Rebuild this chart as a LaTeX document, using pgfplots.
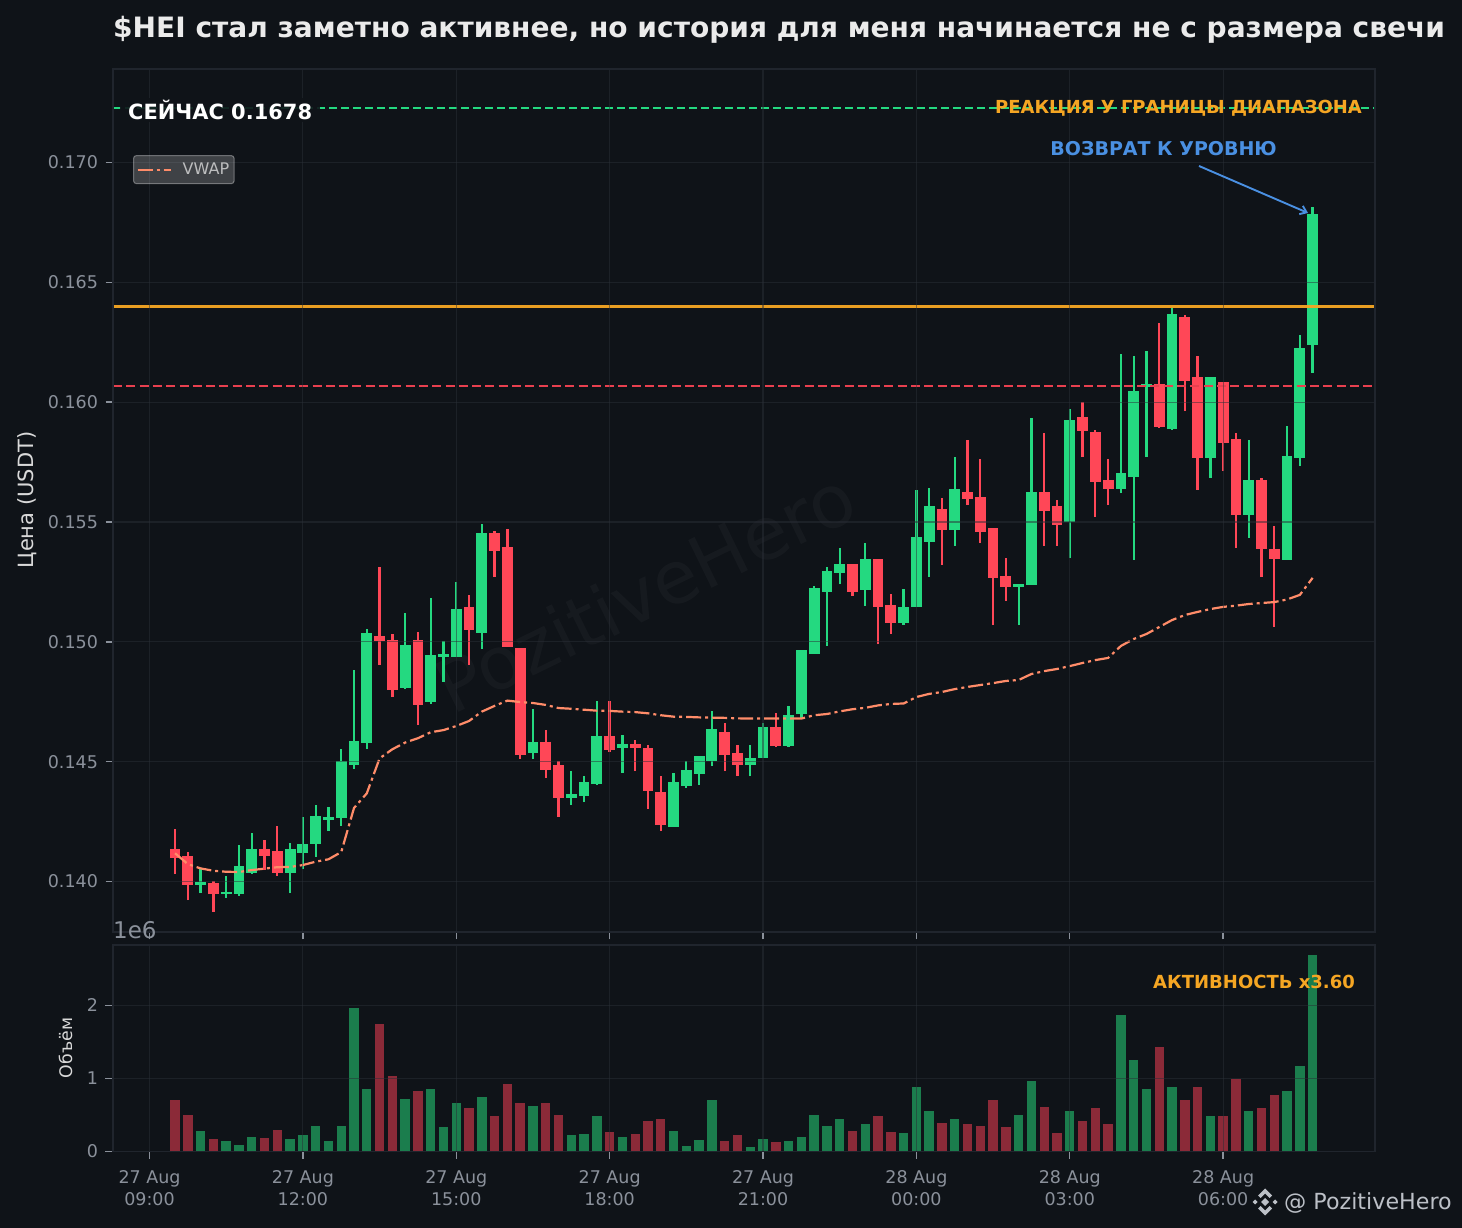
\documentclass[border=0pt]{standalone}
\usepackage{pgfplots}
\usepackage{pgfplotstable}
\usepackage{fontspec}
\usetikzlibrary{arrows.meta}
\setmainfont{DejaVu Sans}
\pgfplotsset{compat=1.18}
\definecolor{bg}{HTML}{0F1318}
\definecolor{gridc}{HTML}{2A2F37}
\definecolor{spine}{HTML}{20252D}
\definecolor{tickc}{HTML}{8B919B}
\definecolor{footc}{HTML}{BCC0C7}
\definecolor{upc}{HTML}{24D980}
\definecolor{dnc}{HTML}{FF4757}
\definecolor{upv}{HTML}{1B7D4D}
\definecolor{dnv}{HTML}{8B2A38}
\definecolor{vwapc}{HTML}{FF8C69}
\definecolor{orangec}{HTML}{F5A623}
\definecolor{bluec}{HTML}{4A90E2}
\definecolor{redl}{HTML}{E8404F}
\pgfplotstableread{
t o h l c
1.00 .13986 .14055 .13952 .13997
1.50 .13949 .14023 .13932 .13957
1.75 .13949 .14153 .13940 .14064
2.00 .14037 .14201 .14032 .14136
2.75 .14037 .14160 .13952 .14136
3.00 .14121 .14271 .14052 .14157
3.25 .14158 .14320 .14103 .14274
3.50 .14258 .14311 .14211 .14270
3.75 .14267 .14553 .14232 .14504
4.00 .14488 .14883 .14470 .14586
4.25 .14580 .15054 .14553 .15037
5.00 .14808 .15121 .14803 .14987
5.50 .14751 .15183 .14741 .14945
5.75 .14938 .15004 .14833 .14949
6.00 .14938 .15250 .14938 .15137
6.50 .15038 .15492 .14970 .15453
7.50 .14537 .14720 .14511 .14584
8.25 .14350 .14461 .14320 .14365
8.50 .14358 .14440 .14332 .14415
8.75 .14407 .14753 .14403 .14606
9.25 .14559 .14612 .14453 .14574
10.25 .14229 .14453 .14229 .14415
10.50 .14399 .14503 .14390 .14465
10.75 .14449 .14524 .14403 .14523
11.00 .14503 .14712 .14482 .14636
11.75 .14486 .14570 .14440 .14515
12.00 .14517 .14662 .14517 .14645
12.50 .14566 .14733 .14562 .14695
12.75 .14700 .14966 .14682 .14966
13.00 .14951 .15233 .14951 .15225
13.25 .15209 .15312 .14983 .15296
13.50 .15289 .15392 .15242 .15325
14.00 .15218 .15413 .15150 .15345
14.75 .15080 .15221 .15070 .15146
15.00 .15147 .15634 .15147 .15438
15.25 .15418 .15642 .15271 .15567
15.75 .15468 .15771 .15400 .15638
17.00 .15230 .15242 .15070 .15242
17.25 .15239 .15934 .15239 .15625
18.00 .15500 .15972 .15350 .15926
19.00 .15639 .16201 .15621 .15705
19.25 .15689 .16193 .15342 .16047
19.50 .16065 .16214 .15771 .16076
20.00 .15889 .16394 .15884 .16367
20.75 .15768 .16105 .15684 .16105
21.50 .15531 .15842 .15434 .15675
22.25 .15342 .15901 .15342 .15776
22.50 .15768 .16280 .15734 .16226
22.75 .16240 .16814 .16122 .16785
}\upT
\pgfplotstableread{
t o h l c
0.50 .14136 .14219 .14032 .14100
0.75 .14105 .14122 .13923 .13986
1.25 .13993 .14002 .13873 .13949
2.25 .14136 .14173 .14048 .14107
2.50 .14128 .14231 .14023 .14037
4.50 .15025 .15312 .14904 .15003
4.75 .15007 .15033 .14770 .14801
5.25 .15008 .15041 .14653 .14738
6.25 .15146 .15196 .14904 .15051
6.75 .15453 .15463 .15271 .15381
7.00 .15395 .15471 .14980 .14980
7.25 .14973 .14973 .14511 .14529
7.75 .14584 .14632 .14433 .14467
8.00 .14485 .14503 .14271 .14350
9.00 .14607 .14753 .14540 .14550
9.50 .14574 .14591 .14461 .14559
9.75 .14557 .14570 .14303 .14379
10.00 .14372 .14440 .14211 .14237
11.25 .14624 .14662 .14461 .14529
11.50 .14536 .14570 .14440 .14486
12.25 .14645 .14703 .14562 .14566
13.75 .15325 .15325 .15192 .15209
14.25 .15345 .15345 .14991 .15147
14.50 .15154 .15200 .15033 .15080
15.50 .15554 .15600 .15321 .15468
16.00 .15625 .15842 .15571 .15596
16.25 .15604 .15763 .15413 .15460
16.50 .15474 .15474 .15070 .15268
16.75 .15275 .15350 .15171 .15230
17.50 .15625 .15871 .15400 .15547
17.75 .15567 .15592 .15400 .15489
18.25 .15938 .16001 .15771 .15881
18.50 .15875 .15884 .15521 .15667
18.75 .15675 .15763 .15571 .15639
19.75 .16076 .16330 .15893 .15898
20.25 .16355 .16363 .15963 .16089
20.50 .16105 .16193 .15634 .15768
21.00 .16084 .16084 .15713 .15831
21.25 .15846 .15871 .15392 .15531
21.75 .15675 .15684 .15271 .15389
22.00 .15388 .15484 .15062 .15347
}\dnT
\pgfplotstableread{
t v
0.50 .14118
0.75 .14073
1.00 .14055
1.25 .14045
1.50 .14041
1.75 .14040
2.00 .14048
2.25 .14054
2.50 .14060
2.75 .14061
3.00 .14069
3.25 .14083
3.50 .14093
3.75 .14123
4.00 .14307
4.25 .14368
4.50 .14514
4.75 .14552
5.00 .14580
5.25 .14598
5.50 .14623
5.75 .14632
6.00 .14649
6.25 .14670
6.50 .14709
6.75 .14733
7.00 .14755
7.25 .14749
7.50 .14745
7.75 .14737
8.00 .14724
8.25 .14721
8.50 .14717
8.75 .14713
9.00 .14712
9.25 .14709
9.50 .14707
9.75 .14702
10.00 .14694
10.25 .14688
10.50 .14687
10.75 .14685
11.00 .14684
11.25 .14683
11.50 .14681
11.75 .14680
12.00 .14680
12.25 .14680
12.50 .14680
12.75 .14680
13.00 .14694
13.25 .14699
13.50 .14710
13.75 .14719
14.00 .14725
14.25 .14735
14.50 .14741
14.75 .14743
15.00 .14770
15.25 .14783
15.50 .14791
15.75 .14803
16.00 .14812
16.25 .14820
16.50 .14828
16.75 .14837
17.00 .14841
17.25 .14866
17.50 .14878
17.75 .14887
18.00 .14899
18.25 .14912
18.50 .14924
18.75 .14933
19.00 .14983
19.25 .15012
19.50 .15033
19.75 .15062
20.00 .15091
20.25 .15112
20.50 .15125
20.75 .15137
21.00 .15146
21.25 .15151
21.50 .15158
21.75 .15162
22.00 .15166
22.25 .15177
22.50 .15196
22.75 .15267
}\vwapT
\pgfplotstableread{
t v
1.00 0.28
1.50 0.15
1.75 0.09
2.00 0.20
2.75 0.17
3.00 0.23
3.25 0.35
3.50 0.15
3.75 0.35
4.00 1.96
4.25 0.85
5.00 0.72
5.50 0.85
5.75 0.33
6.00 0.67
6.50 0.75
7.50 0.63
8.25 0.22
8.50 0.24
8.75 0.48
9.25 0.20
10.25 0.28
10.50 0.08
10.75 0.16
11.00 0.71
11.75 0.06
12.00 0.17
12.50 0.15
12.75 0.20
13.00 0.50
13.25 0.35
13.50 0.45
14.00 0.38
14.75 0.26
15.00 0.89
15.25 0.56
15.75 0.45
17.00 0.50
17.25 0.97
18.00 0.55
19.00 1.87
19.25 1.25
19.50 0.86
20.00 0.88
20.75 0.49
21.50 0.55
22.25 0.83
22.50 1.17
22.75 2.69
}\upV
\pgfplotstableread{
t v
0.50 0.71
0.75 0.50
1.25 0.17
2.25 0.19
2.50 0.30
4.50 1.74
4.75 1.04
5.25 0.83
6.25 0.59
6.75 0.49
7.00 0.92
7.25 0.66
7.75 0.67
8.00 0.50
9.00 0.27
9.50 0.24
9.75 0.42
10.00 0.44
11.25 0.15
11.50 0.23
12.25 0.13
13.75 0.28
14.25 0.48
14.50 0.27
15.50 0.39
16.00 0.37
16.25 0.35
16.50 0.71
16.75 0.34
17.50 0.61
17.75 0.26
18.25 0.42
18.50 0.59
18.75 0.38
19.75 1.43
20.25 0.71
20.50 0.88
21.00 0.49
21.25 0.99
21.75 0.59
22.00 0.77
}\dnV
\pgfplotsset{
  common/.style={
    scale only axis, width=1262pt, anchor=south west,
    xmin=-0.714, xmax=23.97,
    xtick={0,3,6,9,12,15,18,21},
    axis on top,
    grid=major,
    major grid style={color=gridc, line width=1.2pt, opacity=.5},
    axis line style={color=spine, line width=1.8pt},
    major tick length=7.5pt,
    tick align=outside,
    tick style={color=tickc, line width=1.4pt},
    xtick pos=bottom, ytick pos=left,
    yticklabel style={font=\fontsize{17.5}{20}\selectfont, color=tickc, xshift=-4pt},
    xticklabel style={font=\fontsize{17.5}{21.5}\selectfont, color=tickc, align=center, yshift=-8pt},
    clip=true,
  },
  wick/.style={quiver={u=0, v=\thisrow{h}-\thisrow{l}}, no markers, line width=2.3pt, forget plot},
  body/.style={quiver={u=0, v=\thisrow{c}-\thisrow{o}}, no markers, line width=10.8pt, forget plot},
}
\begin{document}
\begin{tikzpicture}[x=1pt,y=1pt]
\path[use as bounding box, fill=bg] (0,0) rectangle (1462,1228);
% watermark
\node[rotate=26, text=white, opacity=.03, font=\fontsize{73}{80}\selectfont] at (645,637) {PozitiveHero};
\begin{axis}[common, at={(113pt,296pt)}, height=863pt,
  ymin=0.137897, ymax=0.1739,
  ytick={0.14,0.145,0.15,0.155,0.16,0.165,0.17},
  yticklabels={0.140,0.145,0.150,0.155,0.160,0.165,0.170},
  scaled y ticks=false,
  xticklabels={},
  legend cell align=left,
  legend image code/.code={\draw[#1, draw opacity=1] (2pt,0pt) -- (35pt,0pt); \path (44pt,0pt);},
  legend style={at={(0.01585,0.9003)}, anchor=north west, fill=white, fill opacity=.2, draw opacity=.35, text opacity=1,
     draw=white, rounded corners=3pt, line width=1pt,
     font=\fontsize{16}{18}\selectfont, text=white!72!bg, inner xsep=3pt, inner ysep=5.5pt},
]
\addplot[wick, draw=upc] table[x=t,y=l] {\upT};
\addplot[wick, draw=dnc] table[x=t,y=l] {\dnT};
\addplot[body, draw=upc] table[x=t,y=o] {\upT};
\addplot[body, draw=dnc] table[x=t,y=o] {\dnT};
\addplot[forget plot, color=upc, line width=1.9pt, dash pattern=on 8pt off 4pt] coordinates {(-0.714,0.17227)(23.97,0.17227)};
\addplot[forget plot, color=redl, line width=2.2pt, dash pattern=on 9pt off 4.3pt] coordinates {(-0.714,0.16068)(23.97,0.16068)};
\addplot[forget plot, color=orangec, line width=3pt, opacity=.95] coordinates {(-0.714,0.16401)(23.97,0.16401)};
\addplot[color=vwapc, line width=2.2pt, dash pattern=on 15pt off 4pt on 3pt off 4pt, no markers] table[x=t,y=v] {\vwapT};
\addlegendentry{VWAP}
\end{axis}
\begin{axis}[common, at={(113pt,76.5pt)}, height=206.5pt,
  ymin=0, ymax=2.829,
  ytick={0,1,2},
  yticklabels={0,1,2},
  xticklabels={{27 Aug\\09:00},{27 Aug\\12:00},{27 Aug\\15:00},{27 Aug\\18:00},{27 Aug\\21:00},{28 Aug\\00:00},{28 Aug\\03:00},{28 Aug\\06:00}},
]
\addplot[ycomb, no markers, color=upv, line width=9.4pt] table[x=t,y=v] {\upV};
\addplot[ycomb, no markers, color=dnv, line width=9.4pt] table[x=t,y=v] {\dnV};
\end{axis}
% texts
\node[anchor=west, inner sep=0pt, text=black!8, font=\bfseries\fontsize{28.05}{32}\selectfont] at (113,1198) {\$HEI стал заметно активнее, но история для меня начинается не с размера свечи};
\node[anchor=west, inner xsep=8pt, inner ysep=2pt, fill=bg, fill opacity=.9, text opacity=1, text=white, font=\bfseries\fontsize{20.95}{24}\selectfont] at (120,1118) {СЕЙЧАС 0.1678};
\node[anchor=east, inner sep=0pt, text=orangec, font=\bfseries\fontsize{17.95}{20}\selectfont] at (1362,1120) {РЕАКЦИЯ У ГРАНИЦЫ ДИАПАЗОНА};
\node[anchor=east, inner sep=0pt, text=bluec, font=\bfseries\fontsize{19}{22}\selectfont] at (1277,1079) {ВОЗВРАТ К УРОВНЮ};
\node[anchor=east, inner sep=0pt, text=orangec, font=\bfseries\fontsize{18}{20}\selectfont] at (1355,246) {АКТИВНОСТЬ x3.60};
\draw[bluec, line width=1.9pt, -{Straight Barb[length=6pt,width=9pt]}] (1199,1062) -- (1308,1015);
\node[rotate=90, text=black!15, font=\fontsize{21}{24}\selectfont] at (27,728) {Цена (USDT)};
\node[rotate=90, text=black!15, font=\fontsize{17.3}{20}\selectfont] at (66,180) {Объём};
\node[anchor=west, inner sep=0pt, text=tickc, font=\fontsize{23}{26}\selectfont] at (113,298) {1e6};
\node[anchor=west, inner sep=0pt, text=footc, font=\fontsize{22.2}{26}\selectfont] at (1284,25.5) {@ PozitiveHero};
% logo
\begin{scope}[shift={(1265,26)}, footc]
\foreach \a in {0,180}{
  \fill[rotate=\a] (0,13.5) -- (7,6.5) -- (4.5,4) -- (0,8.5) -- (-4.5,4) -- (-7,6.5) -- cycle;
}
\foreach \a in {0,180}{
  \fill[rotate=\a] (7.5,0) -- (10,2.5) -- (12.5,0) -- (10,-2.5) -- cycle;
}
\fill (0,4) -- (4,0) -- (0,-4) -- (-4,0) -- cycle;
\end{scope}
\end{tikzpicture}
\end{document}
